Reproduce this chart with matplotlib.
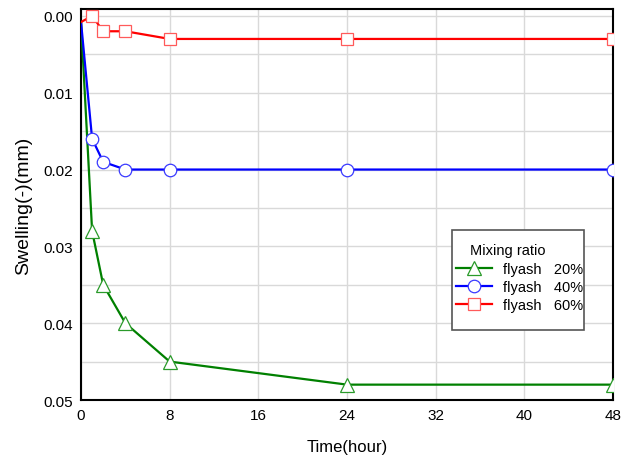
import numpy as np
import matplotlib
matplotlib.use("Agg")
import matplotlib.pyplot as plt
from matplotlib.ticker import MultipleLocator, FormatStrFormatter
from matplotlib.patches import Rectangle

plt.rcParams['font.family'] = ['Liberation Sans', 'DejaVu Sans']

# elapsed time (hour); t=0 is the starting point, drawn without a marker
time_h = [0, 1, 2, 4, 8, 24, 48]
start_value = 0.0008

swell_20 = [start_value, 0.028, 0.035, 0.040, 0.045, 0.048, 0.048]
swell_40 = [start_value, 0.016, 0.019, 0.020, 0.020, 0.020, 0.020]
swell_60 = [start_value, 0.000, 0.002, 0.002, 0.003, 0.003, 0.003]

# (values, label, line colour, marker edge colour, marker, marker size)
series = [
    (swell_20, "flyash   20%", "#008000", "#2a9a2a", "^", 10),
    (swell_40, "flyash   40%", "#0000ff", "#3a3aff", "o", 9),
    (swell_60, "flyash   60%", "#ff0000", "#ff5a5a", "s", 8),
]

fig = plt.figure(figsize=(6.35, 4.56), dpi=100)
ax = fig.add_axes([0.1276, 0.1206, 0.8378, 0.8575])

for vals, label, color, edge, mk, ms in series:
    ax.plot(time_h, vals, color=color, lw=1.6, marker=mk, markevery=list(range(1, len(time_h))),
            markersize=ms, markerfacecolor="white", markeredgecolor=edge,
            markeredgewidth=0.9, label=label, zorder=3)

ax.set_xlim(0, 48)
ax.set_ylim(0.05, -0.0009)
ax.xaxis.set_major_locator(MultipleLocator(8))
ax.yaxis.set_major_locator(MultipleLocator(0.01))
ax.yaxis.set_minor_locator(MultipleLocator(0.005))
ax.yaxis.set_major_formatter(FormatStrFormatter("%.2f"))

ax.grid(True, which="both", color="#d9d9d9", lw=1.0)
ax.set_axisbelow(True)
ax.tick_params(which="both", length=0, labelsize=11, pad=6)

for s in ax.spines.values():
    s.set_linewidth(1.5)
    s.set_color("black")

ax.set_xlabel("Time(hour)", fontsize=12, labelpad=12)
ax.set_ylabel("Swelling(-)(mm)", fontsize=14, labelpad=8)

# legend box drawn by hand so the title can sit off-centre like the entries
box = Rectangle((0.6974, 0.179), 0.2481, 0.2558, transform=ax.transAxes,
                facecolor="white", edgecolor="#555555", lw=1.2, zorder=4)
ax.add_patch(box)
ax.text(0.731, 0.384, "Mixing ratio", transform=ax.transAxes, fontsize=10.5,
        ha="left", va="center", zorder=5)
leg = ax.legend(loc="upper left", bbox_to_anchor=(0.705, 0.352), borderaxespad=0,
                borderpad=0, frameon=False, fontsize=10.5, handlelength=2.47,
                handletextpad=0.75, labelspacing=0.25)
leg.set_zorder(6)

fig.savefig("out.png", dpi=100)
